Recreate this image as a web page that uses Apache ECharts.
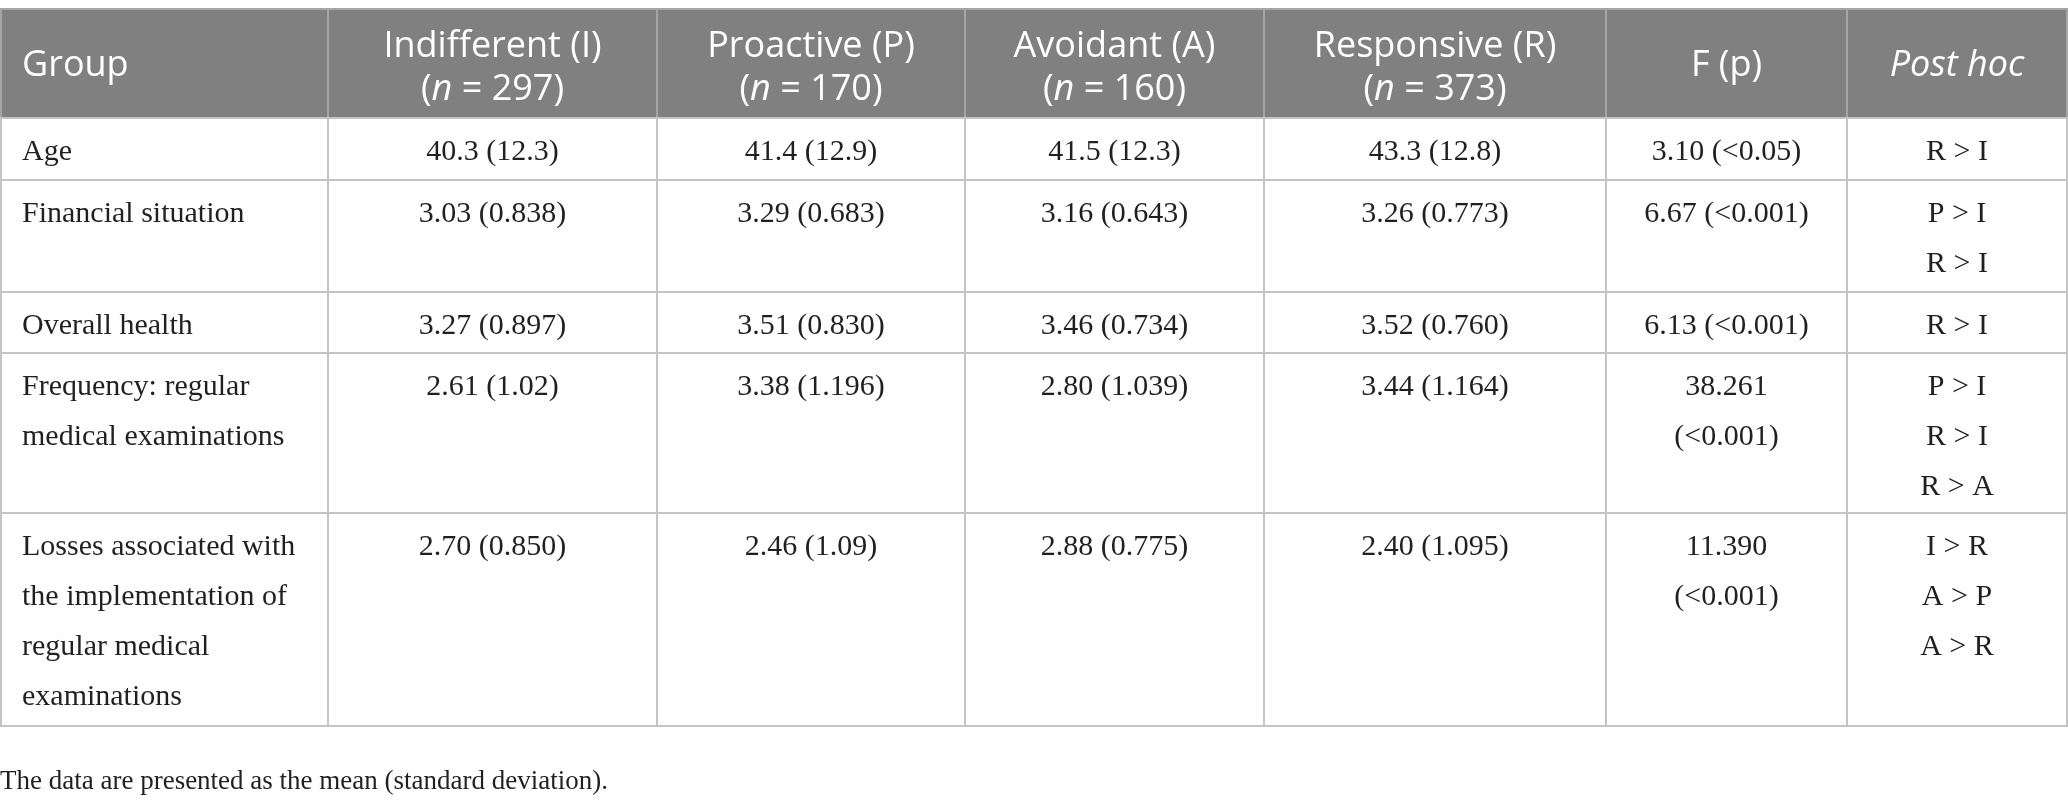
<!DOCTYPE html>
<html>
<head>
<meta charset="utf-8">
<script src="https://cdn.jsdelivr.net/npm/echarts@6/dist/echarts.min.js"></script>
<style>
  html, body { margin: 0; padding: 0; background: #fff; }
  #table { width: 2068px; height: 807px; }
</style>
</head>
<body>
<div id="table"></div>
<script>
// table content
var groups = ['Indifferent (I)', 'Proactive (P)', 'Avoidant (A)', 'Responsive (R)'];
var groupN = [297, 170, 160, 373];
var rowLabels = [
    'Age',
    'Financial situation',
    'Overall health',
    'Frequency: regular\nmedical examinations',
    'Losses associated with\nthe implementation of\nregular medical\nexaminations'
];
var indifferent = ['40.3 (12.3)', '3.03 (0.838)', '3.27 (0.897)', '2.61 (1.02)', '2.70 (0.850)'];
var proactive = ['41.4 (12.9)', '3.29 (0.683)', '3.51 (0.830)', '3.38 (1.196)', '2.46 (1.09)'];
var avoidant = ['41.5 (12.3)', '3.16 (0.643)', '3.46 (0.734)', '2.80 (1.039)', '2.88 (0.775)'];
var responsive = ['43.3 (12.8)', '3.26 (0.773)', '3.52 (0.760)', '3.44 (1.164)', '2.40 (1.095)'];
var fValues = ['3.10 (<0.05)', '6.67 (<0.001)', '6.13 (<0.001)', '38.261\n(<0.001)', '11.390\n(<0.001)'];
var postHoc = [['R > I'], ['P > I', 'R > I'], ['R > I'], ['P > I', 'R > I', 'R > A'], ['I > R', 'A > P', 'A > R']];
var footnote = 'The data are presented as the mean (standard deviation).';

// layout (pixel edges of columns / rows)
var colEdges = [1, 328, 657, 965, 1264, 1606, 1847, 2067];
var rowEdges = [9, 118, 180, 292, 353, 513, 726];

var serif = '"Liberation Serif", "DejaVu Serif", serif';
var sans = '"Open Sans", "Noto Sans", sans-serif';

var columns = [rowLabels, indifferent, proactive, avoidant, responsive, fValues, postHoc.map(function (p) { return p.join('\n'); })];

var cells = [];
for (var c = 0; c < columns.length; c++) {
    cells.push([c, 0]);
    for (var r = 0; r < rowLabels.length; r++) {
        cells.push([c, r + 1]);
    }
}

function headerText(c) {
    if (c === 0) return '{t|Group}';
    if (c === 5) return '{t|F (p)}';
    if (c === 6) return '{i|Post hoc}';
    return '{t|' + groups[c - 1] + '}\n{t|(}{i|n}{t| = ' + groupN[c - 1] + ')}';
}

var headFont = { fontFamily: sans, fontSize: 36, lineHeight: 43, fill: '#fff', color: '#fff' };

var myChart = echarts.init(document.getElementById('table'));
var option = {
    animation: false,
    grid: { left: 0, right: 0, top: 0, bottom: 0 },
    xAxis: { type: 'value', min: 0, max: 2068, show: false },
    yAxis: { type: 'value', min: 0, max: 807, inverse: true, show: false },
    series: [{
        type: 'custom',
        coordinateSystem: 'cartesian2d',
        data: cells,
        renderItem: function (params, api) {
            var c = api.value(0), r = api.value(1);
            var p0 = api.coord([colEdges[c], rowEdges[r]]);
            var p1 = api.coord([colEdges[c + 1], rowEdges[r + 1]]);
            var w = p1[0] - p0[0], h = p1[1] - p0[1];
            var isHead = r === 0;
            var rect = {
                type: 'rect',
                shape: { x: p0[0], y: p0[1], width: w, height: h },
                style: {
                    fill: isHead ? '#7f807f' : '#fff',
                    stroke: isHead ? '#a4a5a4' : '#c4c4c4',
                    lineWidth: 2
                }
            };
            var text;
            if (isHead) {
                var twoLines = c >= 1 && c <= 4;
                text = {
                    type: 'text',
                    style: {
                        text: headerText(c),
                        x: c === 0 ? p0[0] + 21 : p0[0] + w / 2,
                        y: p0[1] + h / 2 + (twoLines ? 5 : 2),
                        align: c === 0 ? 'left' : 'center',
                        verticalAlign: 'middle',
                        fill: '#fff',
                        rich: {
                            t: headFont,
                            i: echarts.util.extend({ fontStyle: 'italic' }, headFont)
                        }
                    }
                };
            } else {
                text = {
                    type: 'text',
                    style: {
                        text: columns[c][r - 1],
                        x: c === 0 ? p0[0] + 21 : p0[0] + w / 2,
                        y: p0[1] + 9,
                        align: c === 0 ? 'left' : 'center',
                        verticalAlign: 'top',
                        fontFamily: serif,
                        fontSize: 30,
                        lineHeight: 50,
                        fill: '#231f20'
                    }
                };
            }
            return { type: 'group', children: [rect, text] };
        }
    }],
    graphic: [{
        type: 'text',
        left: 0,
        top: 768,
        style: {
            text: footnote,
            fontFamily: serif,
            fontSize: 27,
            fill: '#231f20'
        }
    }]
};
myChart.setOption(option);
</script>
</body>
</html>
